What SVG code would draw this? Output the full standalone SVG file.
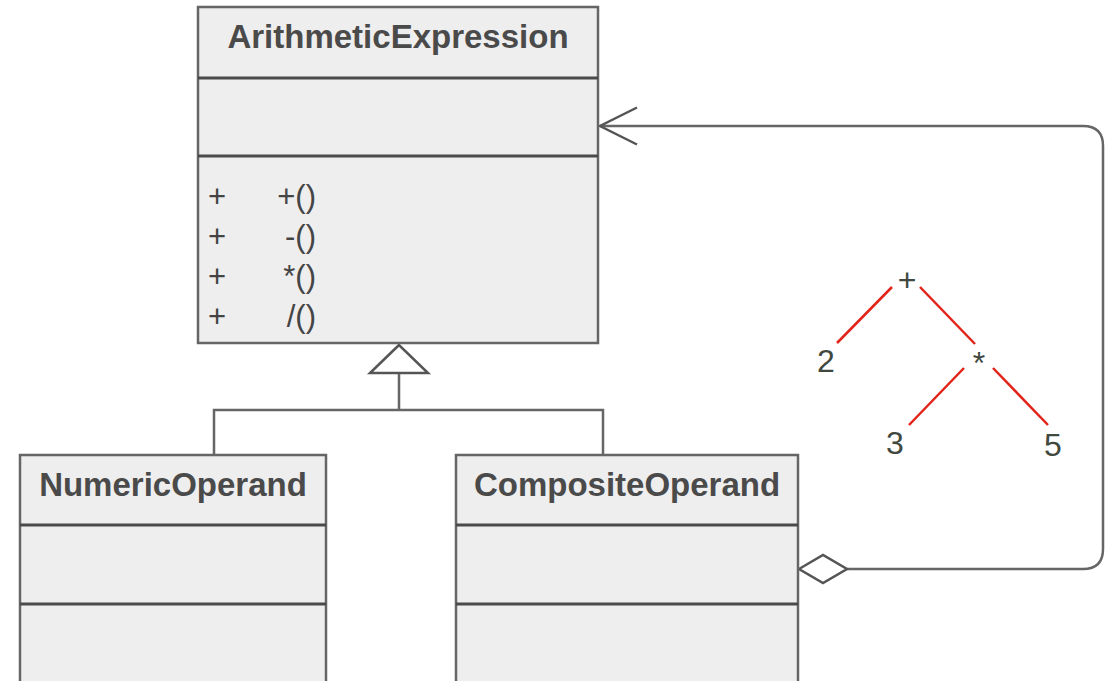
<svg xmlns="http://www.w3.org/2000/svg" width="1113" height="681" viewBox="0 0 1113 681">
<defs>
<style>
.box{fill:#eeeeee;stroke:#666666;stroke-width:2.5}
.div{stroke:#4a4a4a;stroke-width:3}
.title{font-family:"Liberation Sans",Arial,sans-serif;font-weight:bold;font-size:33px;fill:#4a4a4a;text-anchor:middle}
.op{font-family:"Liberation Sans",Arial,sans-serif;font-size:31px;fill:#444444}
.conn{fill:none;stroke:#666666;stroke-width:2.5}
.head{fill:#ffffff;stroke:#555555;stroke-width:2.5}
.tree{stroke:#e2231a;stroke-width:2.5}
.num{font-family:"Liberation Sans",Arial,sans-serif;font-size:32px;fill:#404840;text-anchor:middle}
</style>
<marker id="open" markerUnits="userSpaceOnUse" markerWidth="60" markerHeight="60" refX="0" refY="0" orient="auto" overflow="visible">
<path d="M -37 -18.5 L 0 0 L -37 18.5" fill="none" stroke="#555555" stroke-width="2.5"/>
</marker>
</defs>
<rect width="1113" height="681" fill="#ffffff"/>

<g id="connectors">
<path class="conn" d="M 399 373 V 410 M 214 455 V 410 H 603 V 455"/>
<polygon class="head" points="399,345 370,373 428,373"/>
<path class="conn" d="M 847 569 H 1083 Q 1103 569 1103 549 V 146 Q 1103 126 1083 126 H 600" marker-end="url(#open)"/>
<polygon class="head" points="799,569 823,555 847,569 823,583"/>
</g>

<g id="ArithmeticExpression">
<rect class="box" x="198" y="7" width="400" height="336"/>
<line class="div" x1="198" y1="78" x2="598" y2="78"/>
<line class="div" x1="198" y1="156" x2="598" y2="156"/>
<text class="title" x="398" y="48">ArithmeticExpression</text>
<text class="op" x="208" y="207">+</text>
<text class="op" x="316" y="207" text-anchor="end">+()</text>
<text class="op" x="208" y="247">+</text>
<text class="op" x="316" y="247" text-anchor="end">-()</text>
<text class="op" x="208" y="287">+</text>
<text class="op" x="316" y="287" text-anchor="end">*()</text>
<text class="op" x="208" y="327">+</text>
<text class="op" x="316" y="327" text-anchor="end">/()</text>
</g>

<g id="NumericOperand">
<rect class="box" x="20" y="455" width="306" height="240"/>
<line class="div" x1="20" y1="525" x2="326" y2="525"/>
<line class="div" x1="20" y1="604" x2="326" y2="604"/>
<text class="title" x="173" y="496">NumericOperand</text>
</g>

<g id="CompositeOperand">
<rect class="box" x="456" y="455" width="342" height="240"/>
<line class="div" x1="456" y1="525" x2="798" y2="525"/>
<line class="div" x1="456" y1="604" x2="798" y2="604"/>
<text class="title" x="627" y="496">CompositeOperand</text>
</g>

<g id="tree">
<line class="tree" x1="892" y1="287" x2="837" y2="343"/>
<line class="tree" x1="920" y1="287" x2="975" y2="344"/>
<line class="tree" x1="964" y1="368" x2="909" y2="425"/>
<line class="tree" x1="993" y1="368" x2="1048" y2="425"/>
<text class="num" x="907" y="291">+</text>
<text class="num" x="826" y="372">2</text>
<text class="num" x="979" y="374">*</text>
<text class="num" x="895" y="454">3</text>
<text class="num" x="1053" y="456">5</text>
</g>
</svg>
